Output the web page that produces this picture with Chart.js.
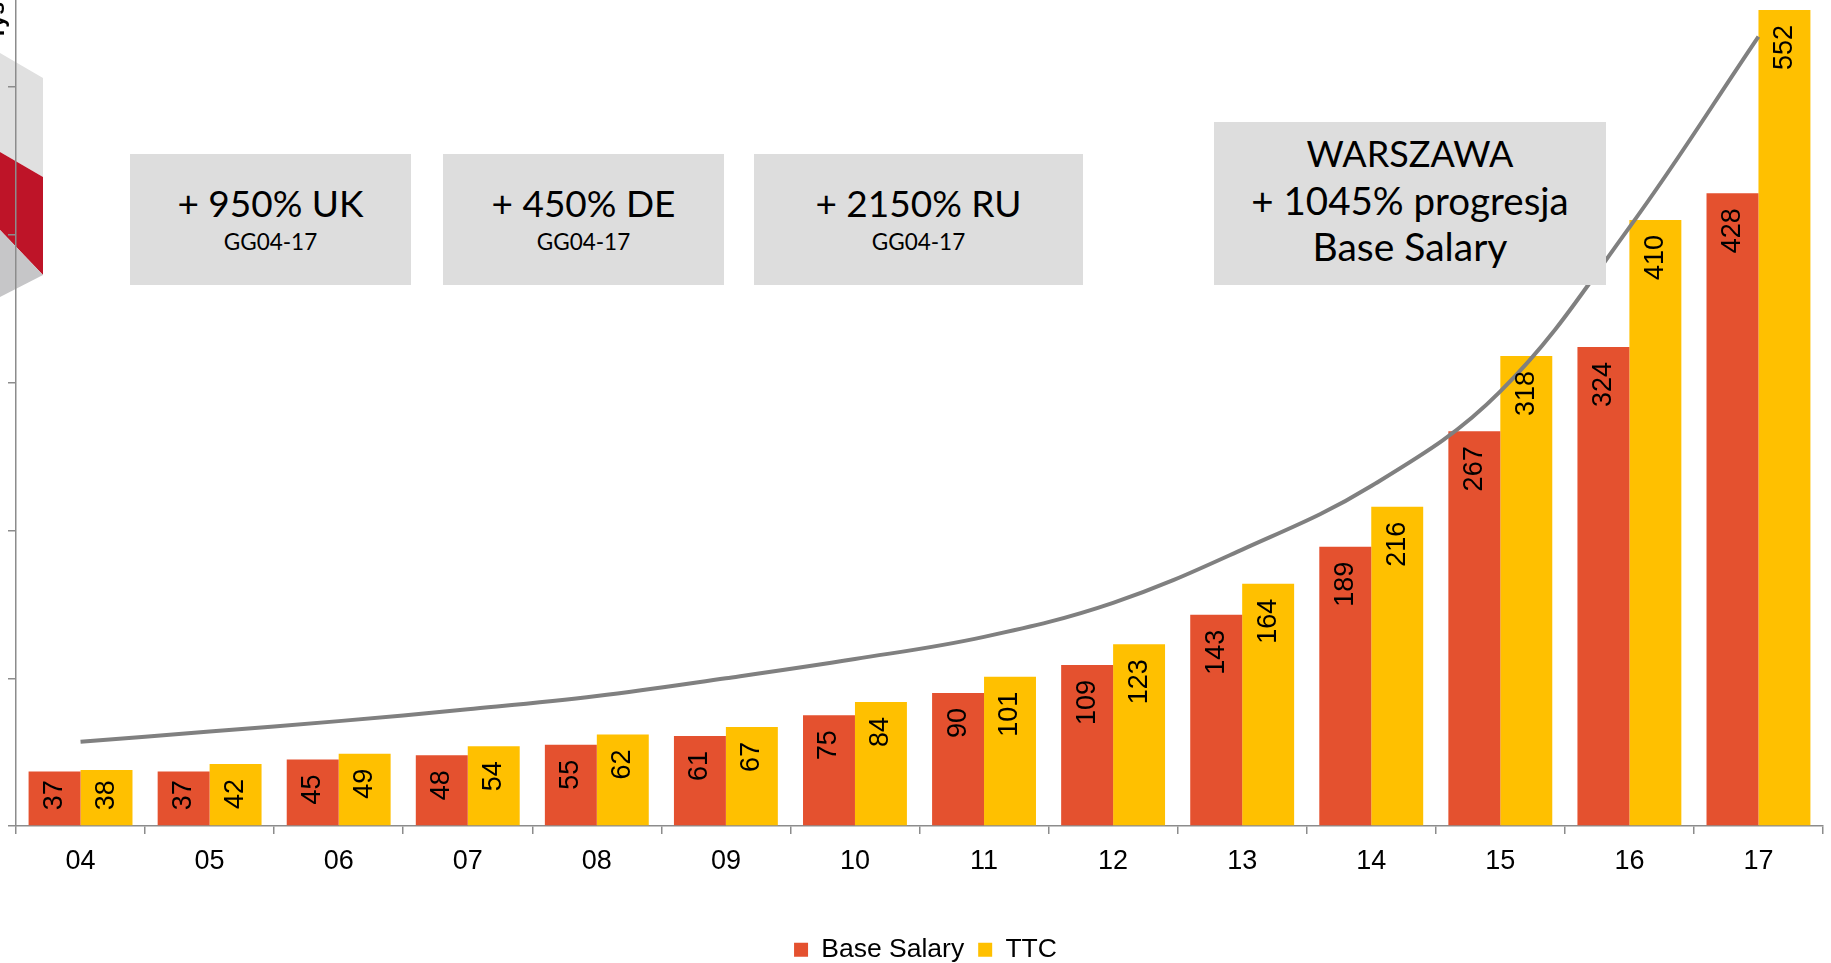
<!DOCTYPE html>
<html lang="pl">
<head>
<meta charset="utf-8">
<title>Base Salary / TTC</title>
<script src="https://cdn.jsdelivr.net/npm/chart.js@4.4.1/dist/chart.umd.min.js"></script>
<style>
  html, body { margin: 0; padding: 0; background: #fff; }
  #wrap { position: relative; width: 1831px; height: 963px; overflow: hidden; background: #fff; }
  #deco { position: absolute; left: 0; top: 0; z-index: 0; }
  #chartBox { position: absolute; left: 0; top: -61px; width: 1831px; height: 1034px; z-index: 1; }
  #yTitle {
    position: absolute; left: -15px; top: 40px; z-index: 2;
    transform-origin: 0 0; transform: rotate(-90deg);
    font: bold 23px "Liberation Sans", Arial, sans-serif; line-height: 23px;
    white-space: nowrap; color: #000;
  }
  .note {
    position: absolute; z-index: 2; background: #dddddd; color: #000;
    font-family: Lato, "Open Sans", sans-serif; text-align: center;
    box-sizing: border-box;
  }
  .note .big { font-size: 37px; line-height: 36px; }
  .note .small { font-size: 22.5px; line-height: 26px; margin-top: 8px; }
  .note.city { line-height: 46.5px; padding-top: 8px; }
  .note.city div { white-space: nowrap; }
</style>
</head>
<body>
<div id="wrap">
  <svg id="deco" width="60" height="320">
    <polygon points="0,53 43,78 43,177 0,152" fill="#e0e0e0"/>
    <polygon points="0,152 43,177 43,275 0,230" fill="#be1428"/>
    <polygon points="0,230 43,275 0,297" fill="#c6c6c8"/>
  </svg>
  <div id="chartBox"><canvas id="chart"></canvas></div>
  <div id="yTitle">Tys</div>

  <div class="note" style="left:130px; top:154px; width:281px; height:131px; padding-top:31px;">
    <div class="big">+ 950% UK</div>
    <div class="small">GG04-17</div>
  </div>
  <div class="note" style="left:443px; top:154px; width:281px; height:131px; padding-top:31px;">
    <div class="big">+ 450% DE</div>
    <div class="small">GG04-17</div>
  </div>
  <div class="note" style="left:754px; top:154px; width:329px; height:131px; padding-top:31px;">
    <div class="big">+ 2150% RU</div>
    <div class="small">GG04-17</div>
  </div>
  <div class="note city" style="left:1214px; top:122px; width:392px; height:163px;">
    <div style="font-size:36px;">WARSZAWA</div>
    <div style="font-size:38.5px;">+ 1045% progresja</div>
    <div style="font-size:39px;">Base Salary</div>
  </div>
</div>

<script>
// years 2004-2017, values in thousands
const years = ['04', '05', '06', '07', '08', '09', '10', '11', '12', '13', '14', '15', '16', '17'];
const baseSalary = [37, 37, 45, 48, 55, 61, 75, 90, 109, 143, 189, 267, 324, 428];
const ttc = [38, 42, 49, 54, 62, 67, 84, 101, 123, 164, 216, 318, 410, 552];

// progression curve, one point per year
const trend = [57, 64, 71, 79, 88, 100, 113, 128, 151, 187, 230, 294, 405, 534];

const yMax = 600;
const yStep = 100;

const RED = '#e4512f';
const GOLD = '#ffc000';
const AXIS = '#8c8c8c';

Chart.defaults.font.family = '"Liberation Sans", Arial, sans-serif';
Chart.defaults.color = '#000';

// vertical value labels inside the top of each bar
const barLabels = {
    id: 'barLabels',
    afterDatasetsDraw(chart) {
        const ctx = chart.ctx;
        ctx.save();
        ctx.font = '27px "Liberation Sans", Arial, sans-serif';
        ctx.fillStyle = '#000';
        ctx.textAlign = 'right';
        ctx.textBaseline = 'middle';
        chart.data.datasets.forEach((ds, di) => {
            if (ds.type === 'line') return;
            const meta = chart.getDatasetMeta(di);
            meta.data.forEach((bar, i) => {
                const txt = String(ds.data[i]);
                const w = ctx.measureText(txt).width;
                const end = Math.min(bar.y + 15, bar.base - 15 - w);
                ctx.save();
                ctx.translate(bar.x, end);
                ctx.rotate(-Math.PI / 2);
                ctx.fillText(txt, 0, 0);
                ctx.restore();
            });
        });
        ctx.restore();
    }
};

// nudge the legend a little to the right of the canvas centre
const legendShift = {
    id: 'legendShift',
    afterLayout(chart) {
        if (!chart.legend) return;
        chart.legend.left += 10;
        chart.legend.right += 10;
    }
};

new Chart(document.getElementById('chart').getContext('2d'), {
    type: 'bar',
    data: {
        labels: years,
        datasets: [
            {
                type: 'line',
                label: 'trend',
                data: trend,
                borderColor: '#808080',
                borderWidth: 4,
                pointRadius: 0,
                fill: false,
                tension: 0.38
            },
            {
                label: 'Base Salary',
                data: baseSalary,
                backgroundColor: RED,
                categoryPercentage: 0.805,
                barPercentage: 1.0
            },
            {
                label: 'TTC',
                data: ttc,
                backgroundColor: GOLD,
                categoryPercentage: 0.805,
                barPercentage: 1.0
            }
        ]
    },
    options: {
        responsive: true,
        maintainAspectRatio: false,
        animation: false,
        layout: { padding: { left: 8, right: 8, top: 0, bottom: 0 } },
        plugins: {
            tooltip: { enabled: false },
            legend: {
                position: 'bottom',
                labels: {
                    boxWidth: 14,
                    boxHeight: 14,
                    padding: 14,
                    font: { size: 26.5 },
                    color: '#000',
                    filter: item => item.text !== 'trend'
                }
            }
        },
        scales: {
            x: {
                offset: true,
                grid: {
                    offset: true,
                    drawOnChartArea: false,
                    drawTicks: true,
                    tickLength: 8,
                    color: AXIS,
                    lineWidth: 1.5
                },
                border: { color: AXIS, width: 1.5 },
                ticks: { font: { size: 27 }, color: '#000', padding: 11 },
                // leave room between the year labels and the legend
                afterFit: scale => { scale.height += 34; }
            },
            y: {
                min: 0,
                max: yMax,
                ticks: { stepSize: yStep, display: false },
                grid: {
                    drawOnChartArea: false,
                    drawTicks: true,
                    tickLength: 8,
                    color: AXIS,
                    lineWidth: 1.5
                },
                border: { color: AXIS, width: 1.5 }
            }
        }
    },
    plugins: [barLabels, legendShift]
});
</script>
</body>
</html>
